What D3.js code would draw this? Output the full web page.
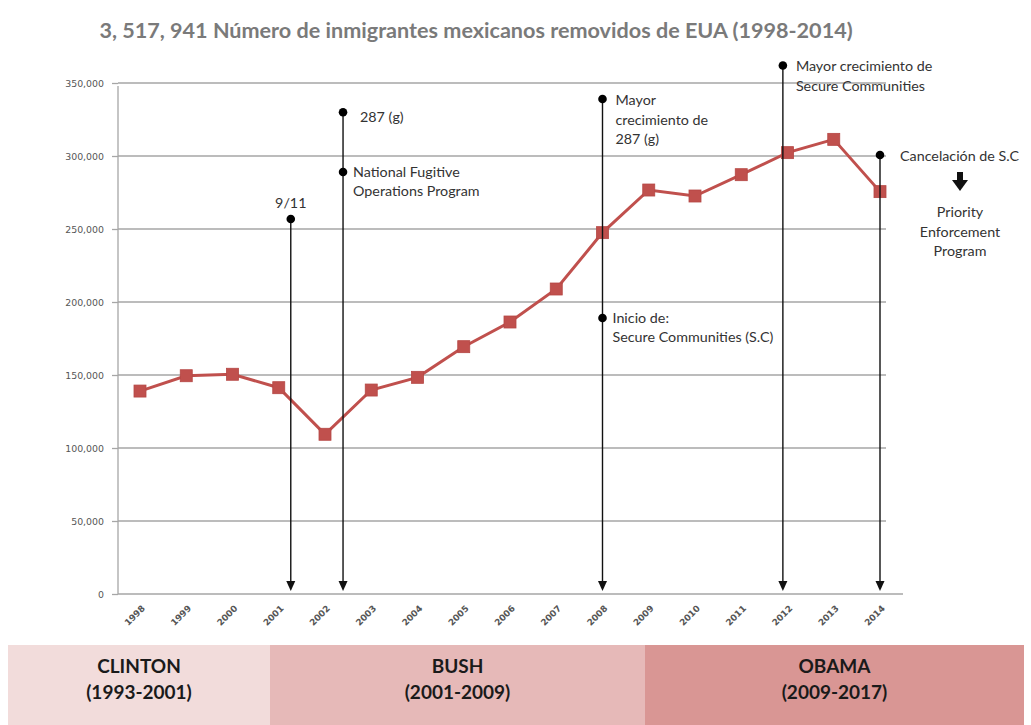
<!DOCTYPE html>
<html><head><meta charset="utf-8">
<script src="https://cdn.jsdelivr.net/npm/d3@7"></script>
<style>body{margin:0;background:#fff}svg{display:block}</style>
</head><body>
<svg id="c" width="1031" height="725"></svg>
<script>
const title = "3, 517, 941 Número de inmigrantes mexicanos removidos de EUA (1998-2014)";
const years = ["1998","1999","2000","2001","2002","2003","2004","2005","2006","2007","2008","2009","2010","2011","2012","2013","2014"];
const removals = [139000,149500,150500,141300,109400,139700,148400,169400,186300,208900,247500,276700,272600,287200,302300,311400,275600];
const yTicks = [0,50000,100000,150000,200000,250000,300000,350000];
// events: fractional year position, top-dot value, extra dot value, label lines
const events = [
  {pos:2001.26, top:256800, label:["9/11"], labelMode:"above"},
  {pos:2002.39, top:330000, label:["287 (g)"], labelMode:"right", extra:289000, extraLabel:["National Fugitive","Operations Program"]},
  {pos:2008.0, top:339000, label:["Mayor","crecimiento de","287 (g)"], labelMode:"right", extra:189000, extraLabel:["Inicio de:","Secure Communities (S.C)"]},
  {pos:2011.9, top:362000, label:["Mayor crecimiento de","Secure Communities"], labelMode:"right"},
  {pos:2014.0, top:300700, label:["Cancelación de S.C"], labelMode:"right"}
];
const followUp = ["Priority","Enforcement","Program"];
const presidents = ["CLINTON","BUSH","OBAMA"];
const terms = ["(1993-2001)","(2001-2009)","(2009-2017)"];
const bandColors = ["#f2dcdb","#e6b9b8","#d99694"];

const svg = d3.select("#c");
const x = d3.scalePoint().domain(years).range([140,880]);
const xf = d3.scaleLinear().domain([1998,2014]).range([140,880]);
const y = d3.scaleLinear().domain([0,350000]).range([594,83]);
const font = "Lato, 'Open Sans', sans-serif";

// title
svg.append("text").attr("x",476).attr("y",38).attr("text-anchor","middle")
  .attr("font-family",font).attr("font-size",21.6).attr("font-weight",700)
  .attr("fill","#7a7a7a").text(title);

// gridlines
svg.append("g").selectAll("line").data(yTicks.filter(d=>d>0)).join("line")
  .attr("x1",118).attr("x2",886).attr("y1",d=>y(d)).attr("y2",d=>y(d))
  .attr("stroke","#a6a6a6").attr("stroke-width",1.3);

// y axis
const yAxis = d3.axisLeft(y).tickValues(yTicks).tickSize(6).tickPadding(8)
  .tickFormat(d3.format(","));
const gy = svg.append("g").attr("transform","translate(118,0)").call(yAxis);
gy.select(".domain").remove();
gy.append("line").attr("x1",0).attr("x2",0).attr("y1",86).attr("y2",594).attr("stroke","#a6a6a6").attr("stroke-width",1.3);
gy.selectAll(".tick line").attr("stroke","#a6a6a6").attr("stroke-width",1.3);
gy.selectAll(".tick text").attr("font-family","'DejaVu Sans', Verdana, sans-serif").attr("font-size",9.4).attr("fill","#555");

// x axis
svg.append("line").attr("x1",118).attr("x2",903).attr("y1",594).attr("y2",594).attr("stroke","#a6a6a6").attr("stroke-width",1.5);
const xAxis = d3.axisBottom(x).tickSize(0).tickPadding(0);
const gx = svg.append("g").attr("transform","translate(0,594)").call(xAxis);
gx.select(".domain").remove();
gx.selectAll(".tick text")
  .attr("font-family","'DejaVu Sans', Verdana, sans-serif").attr("font-size",8.8).attr("font-weight",700)
  .attr("fill","#555").attr("text-anchor","end").attr("dy",0)
  .attr("transform","translate(5,15) rotate(-45)");

// series line
svg.append("path").datum(removals)
  .attr("d", d3.line().x((d,i)=>x(years[i])).y(d=>y(d)))
  .attr("fill","none").attr("stroke","#c0504d").attr("stroke-width",3);
svg.append("g").selectAll("rect").data(removals).join("rect")
  .attr("x",(d,i)=>x(years[i])-6).attr("y",d=>y(d)-6)
  .attr("width",12).attr("height",12).attr("fill","#c0504d").attr("stroke","#b54744").attr("stroke-width",0.8);

// event annotations
const ag = svg.append("g");
const annFont = font;
const annSize = 14.3;
events.forEach(ev=>{
  const ex = xf(ev.pos);
  const ty = y(ev.top);
  ag.append("line").attr("x1",ex).attr("x2",ex).attr("y1",ty).attr("y2",582)
    .attr("stroke","#111").attr("stroke-width",1.4);
  ag.append("path").attr("d",`M${ex-4.5},581 L${ex+4.5},581 L${ex},591 Z`).attr("fill","#111");
  ag.append("circle").attr("cx",ex).attr("cy",ty).attr("r",4.3).attr("fill","#000");
  if (ev.labelMode==="above"){
    ag.append("text").attr("x",ex).attr("y",ty-11).attr("text-anchor","middle")
      .attr("font-family",annFont).attr("font-size",annSize).attr("fill","#333").text(ev.label[0]);
  } else {
    const first = ev.label[0];
    const dx = first==="287 (g)" ? 17 : (first==="Cancelación de S.C" ? 20 : 13);
    const dyStart = first==="287 (g)" ? 10 : 6;
    const t = ag.append("text").attr("font-family",annFont).attr("font-size",annSize).attr("fill","#333");
    ev.label.forEach((l,i)=>t.append("tspan").attr("x",ex+dx).attr("y",ty+dyStart+i*19.5).text(l));
  }
  if (ev.extra!==undefined){
    const ey = y(ev.extra);
    ag.append("circle").attr("cx",ex).attr("cy",ey).attr("r",4.3).attr("fill","#000");
    const t = ag.append("text").attr("font-family",annFont).attr("font-size",annSize).attr("fill","#333");
    ev.extraLabel.forEach((l,i)=>t.append("tspan").attr("x",ex+10).attr("y",ey+5+i*19).text(l));
  }
});

// thick down arrow and follow-up program
ag.append("rect").attr("x",957).attr("y",172).attr("width",6).attr("height",9).attr("fill","#111");
ag.append("path").attr("d","M952,180 L968,180 L960,191 Z").attr("fill","#111");
const ft = ag.append("text").attr("font-family",annFont).attr("font-size",annSize).attr("fill","#333").attr("text-anchor","middle");
followUp.forEach((l,i)=>ft.append("tspan").attr("x",960).attr("y",217+i*19.5).text(l));

// president bands
const bandX = d3.scaleOrdinal().domain(presidents).range([[8,270],[270,645],[645,1024]]);
const bg = svg.append("g");
presidents.forEach((p,i)=>{
  const [a,b] = bandX(p);
  bg.append("rect").attr("x",a).attr("y",645).attr("width",b-a).attr("height",80).attr("fill",bandColors[i]);
  const t = bg.append("text").attr("text-anchor","middle").attr("font-family",font)
    .attr("font-size",19).attr("font-weight",700).attr("fill","#1a1a1a");
  t.append("tspan").attr("x",(a+b)/2).attr("y",673).text(p);
  t.append("tspan").attr("x",(a+b)/2).attr("y",699).text(terms[i]);
});
</script>
</body></html>
